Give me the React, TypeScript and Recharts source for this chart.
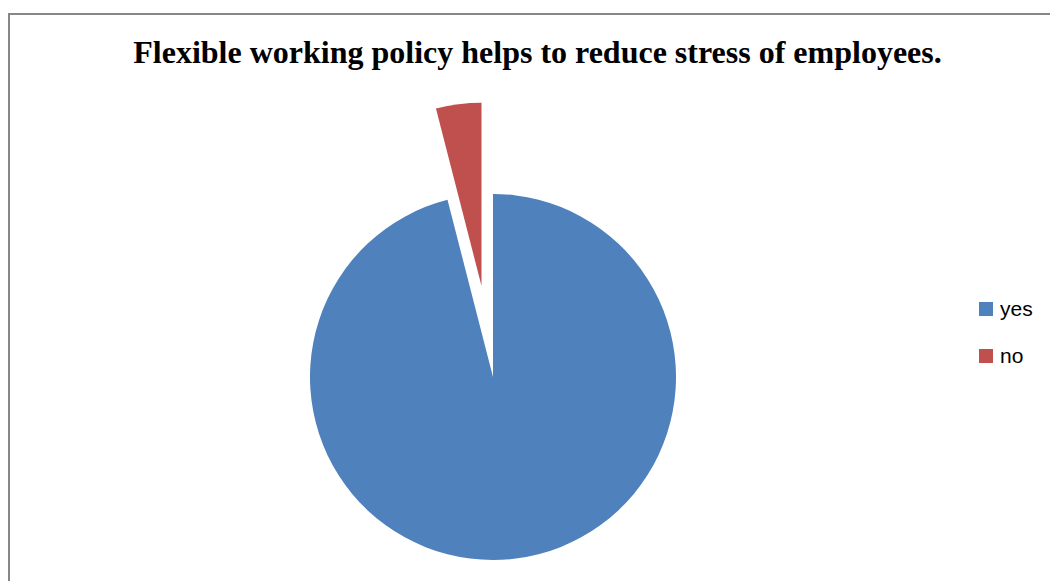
import { PieChart, Pie, Cell, Legend } from "recharts";

const labels = ["yes", "no"];
const values = [96, 4];
const colors = ["#4F81BD", "#C0504D"];

const data = labels.map((name, i) => ({ name, value: values[i] }));

// chart margin is 5px, so these are relative to the plot area
const CX = 488;
const CY = 372;
const R = 183;
const EXPLODE = 92;

// mid angle of the "no" slice, clockwise from 12 o'clock
const total = values.reduce((a, b) => a + b, 0);
const noMid = ((values[0] + values[1] / 2) / total) * 360;
const rad = (noMid * Math.PI) / 180;
const offX = EXPLODE * Math.sin(rad);
const offY = -EXPLODE * Math.cos(rad);

const renderLegend = () => (
  <div style={{ fontFamily: "'Liberation Sans', Arial, sans-serif", fontSize: 21, color: "#000" }}>
    {labels.map((l, i) => (
      <div key={l} style={{ display: "flex", alignItems: "center", height: 47 }}>
        <span style={{ width: 14, height: 14, background: colors[i], display: "inline-block", marginRight: 7 }} />
        <span>{l}</span>
      </div>
    ))}
  </div>
);

export default function App() {
  return (
    <div style={{ position: "fixed", left: 0, top: 0, width: 1050, height: 581, overflow: "hidden", background: "#fff" }}>
      <div
        style={{
          position: "absolute",
          left: 8,
          top: 13,
          width: 1200,
          height: 800,
          border: "2px solid #878787",
        }}
      />
      <div
        style={{
          position: "absolute",
          left: 0,
          top: 34,
          width: 1075,
          textAlign: "center",
          fontFamily: "'Liberation Serif', 'Times New Roman', serif",
          fontWeight: "bold",
          fontSize: 32,
          color: "#000",
          whiteSpace: "nowrap",
        }}
      >
        Flexible working policy helps to reduce stress of employees.
      </div>
      <div style={{ position: "absolute", left: 0, top: 0 }}>
        <PieChart width={1050} height={581}>
          <Pie
            data={data}
            dataKey="value"
            nameKey="name"
            cx={CX}
            cy={CY}
            outerRadius={R}
            startAngle={90}
            endAngle={-270}
            isAnimationActive={false}
            stroke="none"
          >
            {data.map((d, i) => (
              <Cell key={d.name} fill={i === 0 ? colors[0] : "transparent"} stroke="none" />
            ))}
          </Pie>
          <Pie
            data={data}
            dataKey="value"
            nameKey="name"
            cx={CX + offX}
            cy={CY + offY}
            outerRadius={R}
            startAngle={90}
            endAngle={-270}
            isAnimationActive={false}
            stroke="none"
            legendType="none"
          >
            {data.map((d, i) => (
              <Cell key={d.name} fill={i === 1 ? colors[1] : "transparent"} stroke="none" />
            ))}
          </Pie>
          <Legend
            content={renderLegend}
            wrapperStyle={{ position: "absolute", left: 979, top: 285, width: 70 }}
          />
        </PieChart>
      </div>
    </div>
  );
}
